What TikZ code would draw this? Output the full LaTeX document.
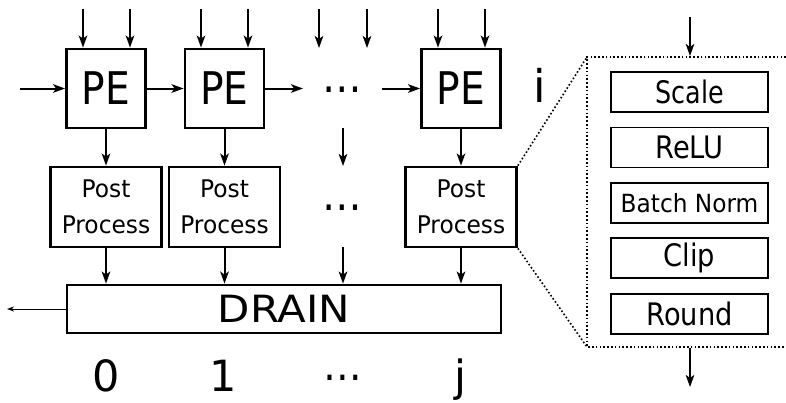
\documentclass[tikz,border=0pt]{standalone}
\usepackage{fontspec}
\usepackage{graphicx}
\setmainfont{DejaVu Sans}
\usetikzlibrary{arrows.meta}
\begin{document}
\begin{tikzpicture}[x=1pt,y=-1pt,
  arr/.style={line width=2pt,-{Stealth[length=12pt,width=8.5pt,inset=3pt]}},
  thinarr/.style={line width=1pt,-{Stealth[length=7pt,width=5pt,inset=2pt]}},
  box/.style={draw,line width=2.8pt,inner sep=0pt},
  pebox/.style={box,minimum width=79pt,minimum height=79pt,font=\fontsize{45}{54}\selectfont},
  ppbox/.style={box,minimum width=111pt,minimum height=80pt,align=center,font=\fontsize{24.3}{35.7}\selectfont},
  ibox/.style={draw,line width=1.8pt,inner sep=0pt,minimum width=157pt,minimum height=40pt,font=\fontsize{31}{36}\selectfont},
  big/.style={anchor=base,inner sep=0pt,font=\fontsize{45}{54}\selectfont},
  lbl/.style={anchor=base,inner sep=0pt,font=\fontsize{43}{50}\selectfont},
  dotl/.style={line width=2pt,dash pattern=on 1.6pt off 2.2pt},
]
\useasboundingbox (0,0) rectangle (786,402);

% PE row
\node[pebox] (pe1) at (106,88.5) {\scalebox{0.87}[1]{PE}};
\node[pebox] (pe2) at (224.5,88.5) {\scalebox{0.87}[1]{PE}};
\node[pebox] (pe3) at (461,88.5) {\scalebox{0.87}[1]{PE}};
\node[big] (dots1) at (342.5,92) {\scalebox{0.88}[1]{…}};
\node[big] (li) at (540,102) {i};

% Post process row
\node[ppbox] (post1) at (106,207) {\scalebox{.96}[1]{Post}\\\scalebox{.96}[1]{Process}};
\node[ppbox] (post2) at (224.5,207) {\scalebox{.96}[1]{Post}\\\scalebox{.96}[1]{Process}};
\node[ppbox] (post3) at (461,207) {\scalebox{.96}[1]{Post}\\\scalebox{.96}[1]{Process}};
\node[big] (dots2) at (342.5,210) {\scalebox{0.88}[1]{…}};

% Drain
\node[box,minimum width=434pt,minimum height=48pt,font=\fontsize{37.5}{44}\selectfont] (drain) at (284,309) {\scalebox{1.12}[1]{DRAIN}};

% bottom labels
\node[lbl] (l0) at (106,391) {0};
\node[lbl] (l1) at (223,391) {1};
\node[lbl] (ldots) at (342.5,380) {\scalebox{0.9}[1]{…}};
\node[lbl] (lj) at (460,391) {j};

% top inputs
\foreach \n/\x in {a/83,b/130,c/201,d/248,g/438,h/485} \coordinate (t\n) at (\x,9);
\draw[arr] (ta) -- (ta |- pe1.north);
\draw[arr] (tb) -- (tb |- pe1.north);
\draw[arr] (tc) -- (tc |- pe2.north);
\draw[arr] (td) -- (td |- pe2.north);
\draw[arr] (tg) -- (tg |- pe3.north);
\draw[arr] (th) -- (th |- pe3.north);
\coordinate (te) at (319,9); \coordinate (te2) at (319,48);
\coordinate (tf) at (367,9); \coordinate (tf2) at (367,48);
\draw[arr] (te) -- (te2);
\draw[arr] (tf) -- (tf2);

% horizontal chain
\coordinate (hin) at (20,88.5);
\coordinate (h2) at (303,88.5);
\coordinate (h3) at (382,88.5);
\draw[arr] (hin) -- (pe1);
\draw[arr] (pe1) -- (pe2);
\draw[arr] (pe2) -- (h2);
\draw[arr] (h3) -- (pe3);

% verticals
\draw[arr] (pe1) -- (post1);
\draw[arr] (pe2) -- (post2);
\draw[arr] (pe3) -- (post3);
\draw[arr] (post1.south) -- (post1.south |- drain.north);
\draw[arr] (post2.south) -- (post2.south |- drain.north);
\draw[arr] (post3.south) -- (post3.south |- drain.north);
\coordinate (m1) at (343,128); \coordinate (m2) at (343,166);
\coordinate (m3) at (343,247);
\draw[arr] (m1) -- (m2);
\draw[arr] (m3) -- (m3 |- drain.north);

% drain output
\coordinate (out) at (7,309);
\draw[thinarr] (drain.west) -- (out);

% detail box
\coordinate (dtl) at (587,57); \coordinate (dtr) at (786,57);
\coordinate (dbl) at (587,347); \coordinate (dbr) at (786,347);
\draw[dotl] (dtr) -- (dtl) -- (dbl) -- (dbr);
\draw[dotl,line width=1.6pt] (post3.north east) -- (dtl);
\draw[dotl,line width=1.6pt] (post3.south east) -- (dbl);
\coordinate (pin) at (690,17); \coordinate (pint) at (690,56);
\coordinate (pob) at (690,348); \coordinate (pout) at (690,387);
\draw[arr] (pin) -- (pint);
\draw[arr] (pob) -- (pout);

\node[ibox] (scale) at (689.5,92) {\scalebox{0.82}[1]{Scale}};
\node[ibox] (relu) at (689.5,147.5) {\scalebox{0.88}[1]{ReLU}};
\node[ibox,font=\fontsize{25}{30}\selectfont] (bn) at (689.5,203) {\scalebox{0.93}[1]{Batch Norm}};
\node[ibox] (clip) at (689.5,258) {\scalebox{0.88}[1]{Clip}};
\node[ibox] (round) at (689.5,314) {\scalebox{0.88}[1]{Round}};
\end{tikzpicture}
\end{document}
